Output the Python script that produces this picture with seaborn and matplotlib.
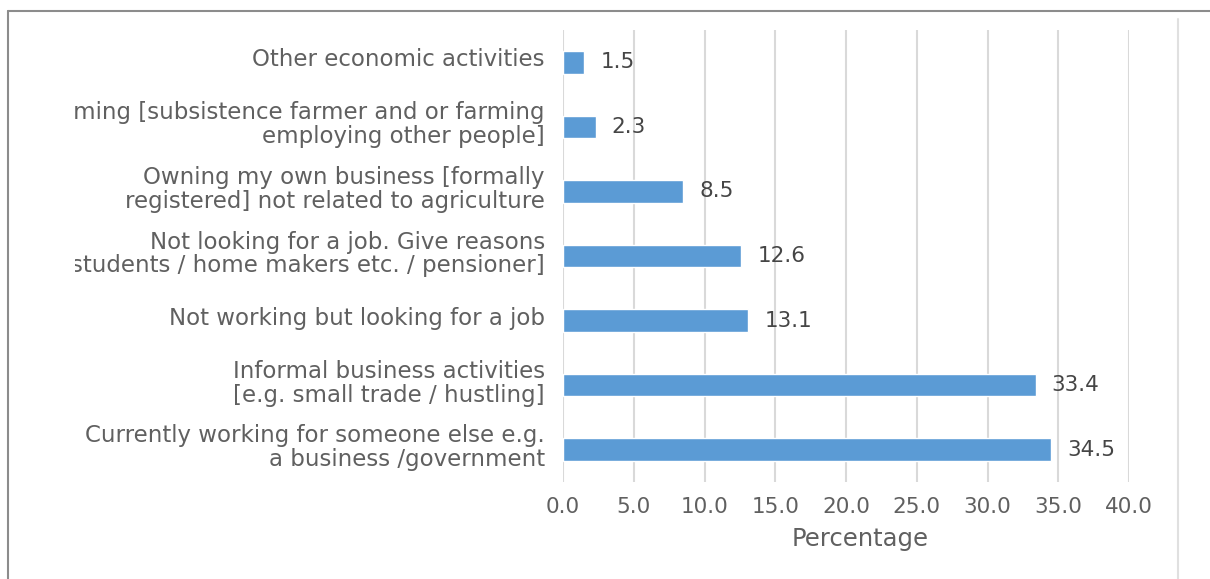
import matplotlib
matplotlib.use("Agg")
import matplotlib.pyplot as plt
import matplotlib.transforms as mtransforms
import seaborn as sns
import pandas as pd
from matplotlib.patches import Rectangle
from matplotlib.lines import Line2D

categories = [
    "Other economic activities",
    "Farming [subsistence farmer and or farming\nemploying other people]",
    "Owning my own business [formally\nregistered] not related to agriculture",
    "Not looking for a job. Give reasons\n[students / home makers etc. / pensioner]",
    "Not working but looking for a job",
    "Informal business activities\n[e.g. small trade / hustling]",
    "Currently working for someone else e.g.\na business /government",
]
values = [1.5, 2.3, 8.5, 12.6, 13.1, 33.4, 34.5]
xticks = [0, 5, 10, 15, 20, 25, 30, 35, 40]

df = pd.DataFrame({"category": categories, "value": values})

sns.set_theme(style="white")
plt.rcParams["font.family"] = ["DejaVu Sans"]

W, H = 1210, 579
fig = plt.figure(figsize=(W / 100, H / 100), dpi=100)
ax = fig.add_axes([563 / W, 1 - 482 / H, (1129 - 563) / W, (482 - 30) / H])

sns.barplot(data=df, x="value", y="category", orient="h", color="#5B9BD5",
            saturation=1, width=0.35, ax=ax, zorder=3)

ax.set_xlim(0, 40)
ax.set_xticks(xticks)
ax.set_xticklabels([f"{t:.1f}" for t in xticks])
ax.set_ylim(6.5, -0.5)
ax.grid(axis="x", color="#d9d9d9", linewidth=1.5, zorder=0)
ax.grid(axis="y", visible=False)
for s in ax.spines.values():
    s.set_visible(False)
ax.tick_params(axis="both", length=0, colors="#606060")
ax.tick_params(axis="x", pad=11, labelsize=15.5)
ax.tick_params(axis="y", pad=13, labelsize=16.5)
offset = mtransforms.ScaledTranslation(0, 5 / 72 * 0.72 * 1.0, fig.dpi_scale_trans)
for lab in ax.get_yticklabels():
    lab.set_linespacing(1.05)
    lab.set_transform(lab.get_transform() + mtransforms.ScaledTranslation(0, 0.05, fig.dpi_scale_trans))
ax.set_ylabel("")
ax.set_xlabel("Percentage", fontsize=17.5, color="#606060")
ax.xaxis.set_label_coords((860 - 563) / 566, -(539 - 482) / 452, transform=ax.transAxes)
ax.xaxis.label.set_va("center")

for c in ax.containers:
    ax.bar_label(c, labels=[f"{v:.1f}" for v in values], padding=11.5,
                 fontsize=15.5, color="#454545")

# clip region at left (chart cropped in the original)
fig.patches.append(Rectangle((0, 0), 75 / W, 1, transform=fig.transFigure,
                             facecolor="white", edgecolor="none", zorder=10))
# border lines
fig.lines.append(Line2D([8 / W, 1], [1 - 11 / H, 1 - 11 / H], transform=fig.transFigure,
                        color="#8c8c8c", linewidth=1.5, zorder=11))
fig.lines.append(Line2D([8 / W, 8 / W], [0, 1 - 11 / H], transform=fig.transFigure,
                        color="#8c8c8c", linewidth=1.5, zorder=11))
fig.lines.append(Line2D([1178 / W, 1178 / W], [0, 1 - 19 / H], transform=fig.transFigure,
                        color="#e0e0e0", linewidth=1.5, zorder=11))

fig.savefig("out.png", dpi=100)
